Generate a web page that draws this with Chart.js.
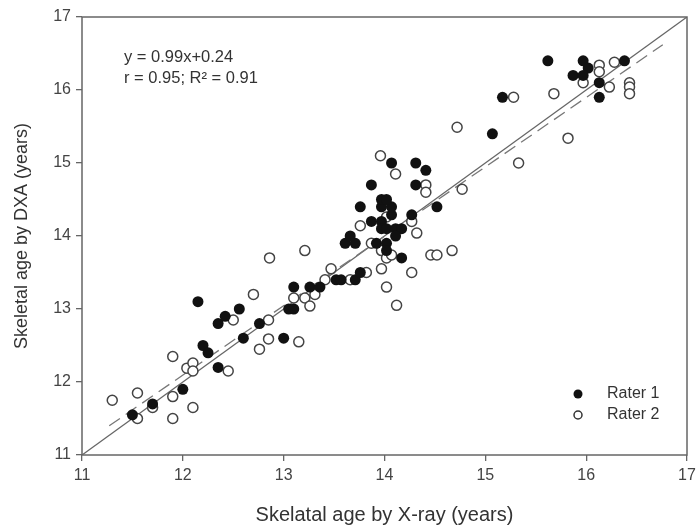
<!DOCTYPE html>
<html>
<head>
<meta charset="utf-8">
<script src="https://cdn.jsdelivr.net/npm/chart.js@4.4.1/dist/chart.umd.min.js"></script>
<style>
  body { margin: 0; background: #fff; }
  #wrap { width: 698px; height: 529px; }
</style>
</head>
<body>
<div id="wrap"><canvas id="ageChart" width="698" height="529"></canvas></div>
<script>
  // Rater 1 (filled dots)
  const rater1X = [11.5, 11.7, 12.0, 12.2, 12.25, 12.35, 12.15, 12.35, 12.42, 12.56, 12.6, 12.76, 13.0, 13.05, 13.1, 13.1,
    13.26, 13.36, 13.52, 13.57, 13.71, 13.76, 13.61, 13.71, 13.66, 13.92, 14.02, 14.02, 14.17, 13.87, 13.97, 13.97,
    14.02, 14.11, 14.17, 14.11, 14.07, 14.27, 13.76, 13.97, 14.07, 13.97, 14.02, 13.87, 14.07, 14.31, 14.41, 14.31,
    14.52, 15.07, 15.17, 15.62, 15.97, 16.02, 16.38, 15.87, 15.97, 16.13, 16.13];
  const rater1Y = [11.55, 11.7, 11.9, 12.5, 12.4, 12.2, 13.1, 12.8, 12.9, 13.0, 12.6, 12.8, 12.6, 13.0, 13.0, 13.3,
    13.3, 13.3, 13.4, 13.4, 13.4, 13.5, 13.9, 13.9, 14.0, 13.9, 13.9, 13.8, 13.7, 14.2, 14.2, 14.1,
    14.1, 14.1, 14.1, 14.0, 14.29, 14.29, 14.4, 14.4, 14.4, 14.5, 14.5, 14.7, 15.0, 15.0, 14.9, 14.7,
    14.4, 15.4, 15.9, 16.4, 16.4, 16.3, 16.4, 16.2, 16.2, 16.1, 15.9];

  // Rater 2 (open circles)
  const rater2X = [11.3, 11.55, 11.55, 11.7, 11.9, 11.9, 11.9, 12.04, 12.1, 12.1, 12.1, 12.45, 12.5, 12.7, 12.76, 12.85,
    12.85, 13.1, 13.15, 13.21, 13.26, 13.31, 12.86, 13.21, 13.41, 13.47, 13.66, 13.82, 13.97, 14.02, 14.12, 14.27,
    14.46, 14.52, 14.67, 13.97, 14.02, 14.07, 13.87, 13.76, 14.02, 14.27, 14.32, 13.96, 14.11, 14.41, 14.41, 14.77,
    14.72, 15.33, 15.28, 15.68, 15.82, 15.97, 16.13, 16.13, 16.28, 16.23, 16.43, 16.43, 16.43];
  const rater2Y = [11.75, 11.85, 11.5, 11.65, 11.8, 11.5, 12.35, 12.19, 12.26, 12.15, 11.65, 12.15, 12.85, 13.2, 12.45, 12.85,
    12.59, 13.15, 12.55, 13.15, 13.04, 13.2, 13.7, 13.8, 13.4, 13.55, 13.4, 13.5, 13.55, 13.3, 13.05, 13.5,
    13.74, 13.74, 13.8, 13.8, 13.7, 13.74, 13.9, 14.14, 14.26, 14.2, 14.04, 15.1, 14.85, 14.7, 14.6, 14.64,
    15.49, 15.0, 15.9, 15.95, 15.34, 16.1, 16.34, 16.25, 16.38, 16.04, 16.1, 16.04, 15.95];

  // line of identity and fitted line (end points)
  const identityX = [11, 17];
  const identityY = [11, 17];
  const fitX = [11.27, 16.76];
  const fitY = [11.40, 16.62];

  const axisTicks = [11, 12, 13, 14, 15, 16, 17];
  const annotationLines = ['y = 0.99x+0.24', 'r = 0.95; R\u00B2 = 0.91'];
  const legendLabels = ['Rater 1', 'Rater 2'];

  const FONT = "'Liberation Sans', Arial, sans-serif";
  const toPoints = (xs, ys) => xs.map((x, i) => ({ x: x, y: ys[i] }));

  // box round the plot, equation text and legend
  const extras = {
    id: 'extras',
    beforeDatasetsDraw(chart) {
      const { ctx, chartArea: a } = chart;
      ctx.save();
      ctx.strokeStyle = '#666';
      ctx.lineWidth = 1.5;
      ctx.strokeRect(a.left, a.top, a.right - a.left, a.bottom - a.top);
      ctx.restore();
    },
    afterDraw(chart) {
      const ctx = chart.ctx;
      ctx.save();
      ctx.fillStyle = '#333';
      ctx.font = '16.5px ' + FONT;
      ctx.textBaseline = 'middle';
      ctx.fillText(annotationLines[0], 124, 57);
      ctx.fillText(annotationLines[1], 124, 78);

      // legend
      ctx.font = '16px ' + FONT;
      ctx.fillText(legendLabels[0], 607, 394);
      ctx.fillText(legendLabels[1], 607, 415);
      ctx.beginPath();
      ctx.arc(578, 394, 4.5, 0, Math.PI * 2);
      ctx.fillStyle = '#111';
      ctx.fill();
      ctx.beginPath();
      ctx.arc(578, 415, 4, 0, Math.PI * 2);
      ctx.fillStyle = '#fff';
      ctx.fill();
      ctx.lineWidth = 1.5;
      ctx.strokeStyle = '#333';
      ctx.stroke();
      ctx.restore();
    }
  };

  const ctx = document.getElementById('ageChart').getContext('2d');
  const ageChart = new Chart(ctx, {
    type: 'scatter',
    data: {
      datasets: [
        {
          label: 'identity',
          type: 'line',
          data: toPoints(identityX, identityY),
          borderColor: '#666',
          borderWidth: 1.3,
          pointRadius: 0,
          order: 4
        },
        {
          label: 'fit',
          type: 'line',
          data: toPoints(fitX, fitY),
          borderColor: '#777',
          borderWidth: 1.3,
          borderDash: [13, 7],
          pointRadius: 0,
          order: 3
        },
        {
          label: legendLabels[1],
          data: toPoints(rater2X, rater2Y),
          pointRadius: 5,
          pointBackgroundColor: '#fff',
          pointBorderColor: '#444',
          pointBorderWidth: 1.5,
          order: 2
        },
        {
          label: legendLabels[0],
          data: toPoints(rater1X, rater1Y),
          pointRadius: 5.5,
          pointBackgroundColor: '#111',
          pointBorderColor: '#111',
          pointBorderWidth: 0,
          order: 1
        }
      ]
    },
    options: {
      responsive: false,
      animation: false,
      layout: { padding: { top: 17, right: 11, left: 0, bottom: 0 } },
      plugins: {
        legend: { display: false },
        tooltip: { enabled: false }
      },
      scales: {
        x: {
          type: 'linear',
          min: 11,
          max: 17,
          afterBuildTicks: (scale) => { scale.ticks = axisTicks.map(v => ({ value: v })); },
          afterFit: (scale) => { scale.height = 74; scale.paddingLeft = 0; scale.paddingRight = 0; },
          border: { display: false },
          grid: { drawOnChartArea: false, drawTicks: true, tickLength: 6, color: '#666', lineWidth: 1.3 },
          ticks: { color: '#444', font: { family: FONT, size: 16 }, padding: 5, maxRotation: 0 },
          title: {
            display: true,
            text: 'Skelatal age by X-ray (years)',
            color: '#333',
            font: { family: FONT, size: 20 },
            padding: { top: 0, bottom: 2 }
          }
        },
        y: {
          type: 'linear',
          min: 11,
          max: 17,
          afterBuildTicks: (scale) => { scale.ticks = axisTicks.map(v => ({ value: v })); },
          afterFit: (scale) => { scale.width = 82; },
          border: { display: false },
          grid: { drawOnChartArea: false, drawTicks: true, tickLength: 6, color: '#666', lineWidth: 1.3 },
          ticks: { color: '#444', font: { family: FONT, size: 16 }, padding: 5 },
          title: {
            display: true,
            text: 'Skeletal age by DXA (years)',
            color: '#333',
            font: { family: FONT, size: 18 },
            padding: { top: 11, bottom: 0 }
          }
        }
      }
    },
    plugins: [extras]
  });
</script>
</body>
</html>
